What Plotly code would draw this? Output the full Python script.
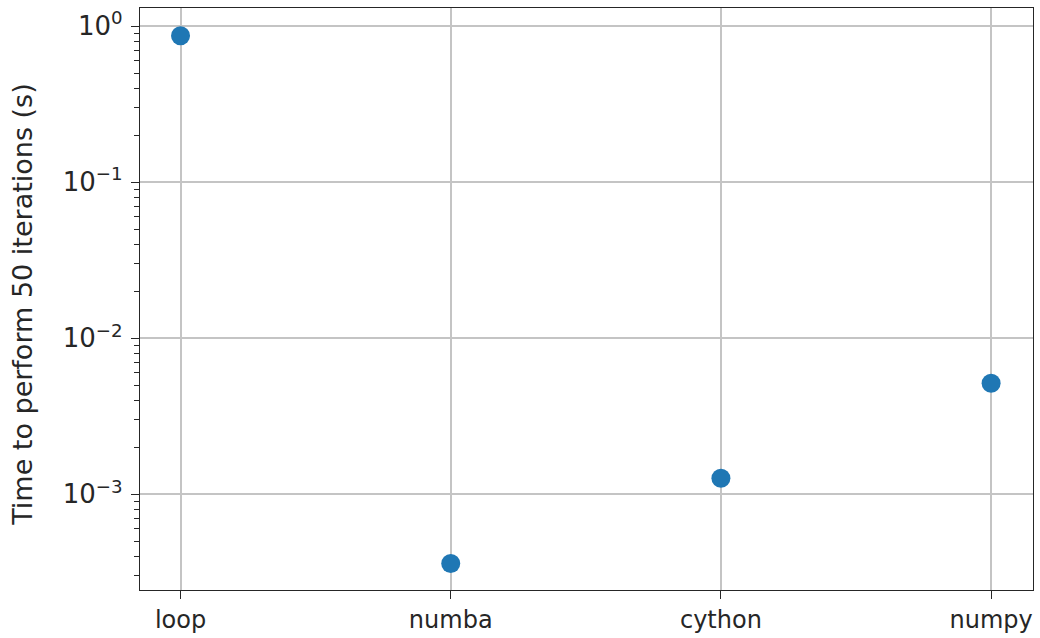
import plotly.graph_objects as go

# Timings for 50 iterations of each implementation
methods = ["loop", "numba", "cython", "numpy"]
times_s = [0.87, 3.6e-4, 1.27e-3, 5.15e-3]

# Log-axis labelling
major_vals = [1e-3, 1e-2, 1e-1, 1e0]
major_text = ["10<sup>−3</sup>", "10<sup>−2</sup>", "10<sup>−1</sup>", "10<sup>0</sup>"]
minor_vals = [m * 10.0 ** e for e in range(-4, 1) for m in range(2, 10)]
y_title = "Time to perform 50 iterations (s)"

ink = "#262626"
grid = "#c4c4c4"
y_range = [-3.613, 0.117]

fig = go.Figure(
    go.Scatter(
        x=methods,
        y=times_s,
        mode="markers",
        marker=dict(color="#1f77b4", size=19),
        showlegend=False,
    )
)

fig.update_layout(
    width=1040,
    height=638,
    margin=dict(l=140, r=7, t=8, b=48),
    plot_bgcolor="white",
    paper_bgcolor="white",
    font=dict(family="DejaVu Sans", size=24, color=ink),
    xaxis=dict(
        range=[-0.15, 3.155],
        automargin=False,
        showgrid=True,
        gridcolor=grid,
        gridwidth=1.5,
        showline=True,
        linecolor=ink,
        linewidth=1.3,
        mirror=True,
        ticks="outside",
        ticklen=8,
        tickwidth=1.2,
        tickcolor=ink,
        zeroline=False,
        tickfont=dict(size=24),
        ticklabelstandoff=0,
    ),
    yaxis=dict(
        type="log",
        range=y_range,
        automargin=False,
        tickmode="array",
        tickvals=major_vals,
        ticktext=major_text,
        showgrid=True,
        gridcolor=grid,
        gridwidth=1.5,
        showline=True,
        linecolor=ink,
        linewidth=1.3,
        mirror=True,
        ticks="outside",
        ticklen=8,
        tickwidth=1.2,
        tickcolor=ink,
        zeroline=False,
        tickfont=dict(size=26),
        ticklabelstandoff=3,
        minor=dict(
            tickmode="array",
            tickvals=minor_vals,
            ticks="outside",
            ticklen=5,
            tickwidth=1.2,
            tickcolor=ink,
            showgrid=False,
        ),
    ),
    annotations=[
        dict(
            text=y_title,
            xref="paper",
            yref="paper",
            x=-0.131,
            y=0.49,
            xanchor="center",
            yanchor="middle",
            textangle=-90,
            showarrow=False,
            font=dict(size=27, color=ink),
        )
    ],
)

fig.write_html("out.html")
